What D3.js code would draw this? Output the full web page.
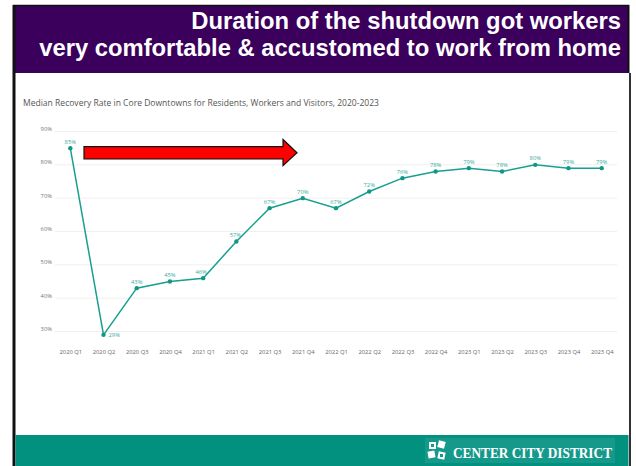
<!DOCTYPE html>
<html><head><meta charset="utf-8">
<script src="https://cdn.jsdelivr.net/npm/d3@7"></script>
<style>html,body{margin:0;padding:0;background:#fff;}svg{display:block;}</style>
</head><body>
<script>
const categories = ["2020 Q1","2020 Q2","2020 Q3","2020 Q4","2021 Q1","2021 Q2","2021 Q3","2021 Q4","2022 Q1","2022 Q2","2022 Q3","2022 Q4","2023 Q1","2023 Q2","2023 Q3","2023 Q4","2023 Q4"];
const values = [85,29,43,45,46,57,67,70,67,72,76,78,79,78,80,79,79];
const yTicks = [30,40,50,60,70,80,90];
const headline = ["Duration of the shutdown got workers","very comfortable & accustomed to work from home"];
const chartTitle = "Median Recovery Rate in Core Downtowns for Residents, Workers and Visitors, 2020-2023";
const brand = "CENTER CITY DISTRICT";

const W = 636, H = 466;
const svg = d3.select("body").append("svg").attr("width", W).attr("height", H);

// header band
svg.append("rect").attr("x",13).attr("y",5).attr("width",615).attr("height",68).attr("fill","#3a005c");
svg.append("line").attr("x1",13).attr("x2",629).attr("y1",5.5).attr("y2",5.5).attr("stroke","#111").attr("stroke-width",1.5);
svg.append("line").attr("x1",628.5).attr("x2",628.5).attr("y1",5).attr("y2",73).attr("stroke","#111").attr("stroke-width",2);
headline.forEach((t,i)=>{
  svg.append("text").attr("x",621).attr("y",i===0?29:56).attr("text-anchor","end")
    .attr("font-family","Liberation Sans, Arial, sans-serif").attr("font-weight","bold")
    .attr("font-size",23.8).attr("fill","#fff").text(t);
});
// side borders
svg.append("line").attr("x1",14).attr("x2",14).attr("y1",5).attr("y2",466).attr("stroke","#111").attr("stroke-width",3);
svg.append("line").attr("x1",630).attr("x2",630).attr("y1",73).attr("y2",466).attr("stroke","#333").attr("stroke-width",2);

// footer band
svg.append("rect").attr("x",15.5).attr("y",435).attr("width",613).attr("height",31).attr("fill","#02907f");
svg.append("rect").attr("x",425).attr("y",438).attr("width",190).attr("height",25).attr("fill","#14998a");
const logo = svg.append("g").attr("fill","#fff");
[[429,442,0],[438,441,15],[428,451,-10],[438,452,12]].forEach(([x,y,r])=>{
  logo.append("rect").attr("x",x).attr("y",y).attr("width",7).attr("height",7)
    .attr("transform",`rotate(${r},${x+3.5},${y+3.5})`);
});
logo.append("rect").attr("x",431).attr("y",444).attr("width",3).attr("height",3).attr("fill","#14998a");
logo.append("rect").attr("x",440).attr("y",454).attr("width",3).attr("height",3).attr("fill","#14998a");
svg.append("text").attr("x",453).attr("y",458).attr("font-family","Liberation Serif, serif").attr("font-weight","bold")
  .attr("font-size",14).attr("fill","#fff").attr("textLength",159).attr("lengthAdjust","spacingAndGlyphs").text(brand);

// chart
svg.append("text").attr("x",23).attr("y",106).attr("font-family","Open Sans, sans-serif").attr("font-size",8.4)
  .attr("fill","#555").attr("textLength",356).attr("lengthAdjust","spacingAndGlyphs").text(chartTitle);

const x = d3.scalePoint().domain(d3.range(categories.length)).range([70.3,601.7]);
const y = d3.scaleLinear().domain([30,90]).range([331.5,131.5]);

const grid = svg.append("g");
grid.selectAll("line").data(yTicks).join("line")
  .attr("x1",55).attr("x2",617).attr("y1",d=>y(d)).attr("y2",d=>y(d))
  .attr("stroke","#efefef").attr("stroke-width",1);

const yAxis = d3.axisLeft(y).tickValues(yTicks).tickFormat(d=>d+"%").tickSize(0).tickPadding(0);
const ya = svg.append("g").attr("transform","translate(52,-3)").call(yAxis);
ya.select(".domain").remove();
ya.selectAll("text").attr("font-family","Open Sans, sans-serif").attr("font-size",5.8).attr("fill","#777");

const xAxis = d3.axisBottom(x).tickFormat(i=>categories[i]).tickSize(0).tickPadding(0);
const xa = svg.append("g").attr("transform","translate(0,350)").call(xAxis);
xa.select(".domain").remove();
xa.selectAll("text").attr("font-family","Open Sans, sans-serif").attr("font-size",5.8).attr("fill","#666");

// arrow
const arr = d3.path();
arr.moveTo(84,146.7); arr.lineTo(283,146.7); arr.lineTo(283,139.5); arr.lineTo(297,152.8);
arr.lineTo(283,165.7); arr.lineTo(283,159); arr.lineTo(84,159); arr.closePath();
svg.append("path").attr("d",arr.toString()).attr("fill","#ff0000").attr("stroke","#111").attr("stroke-width",1.2);

const line = d3.line().x((d,i)=>x(i)).y(d=>y(d));
svg.append("path").datum(values).attr("d",line).attr("fill","none").attr("stroke","#17a08f").attr("stroke-width",1.5);
svg.append("g").selectAll("circle").data(values).join("circle")
  .attr("cx",(d,i)=>x(i)).attr("cy",d=>y(d)).attr("r",2.2).attr("fill","#12968a");
svg.append("g").selectAll("text").data(values).join("text")
  .attr("x",(d,i)=> i===1 ? x(i)+5 : (i===4? x(i)-2 : (i===5? x(i)-1: x(i))))
  .attr("y",(d,i)=> i===1 ? y(d)+2 : y(d)-4.5)
  .attr("text-anchor",(d,i)=> i===1 ? "start":"middle")
  .attr("font-family","Open Sans, sans-serif").attr("font-size",5.8).attr("fill","#3aab9c")
  .text(d=>d+"%");
</script>
</body></html>
